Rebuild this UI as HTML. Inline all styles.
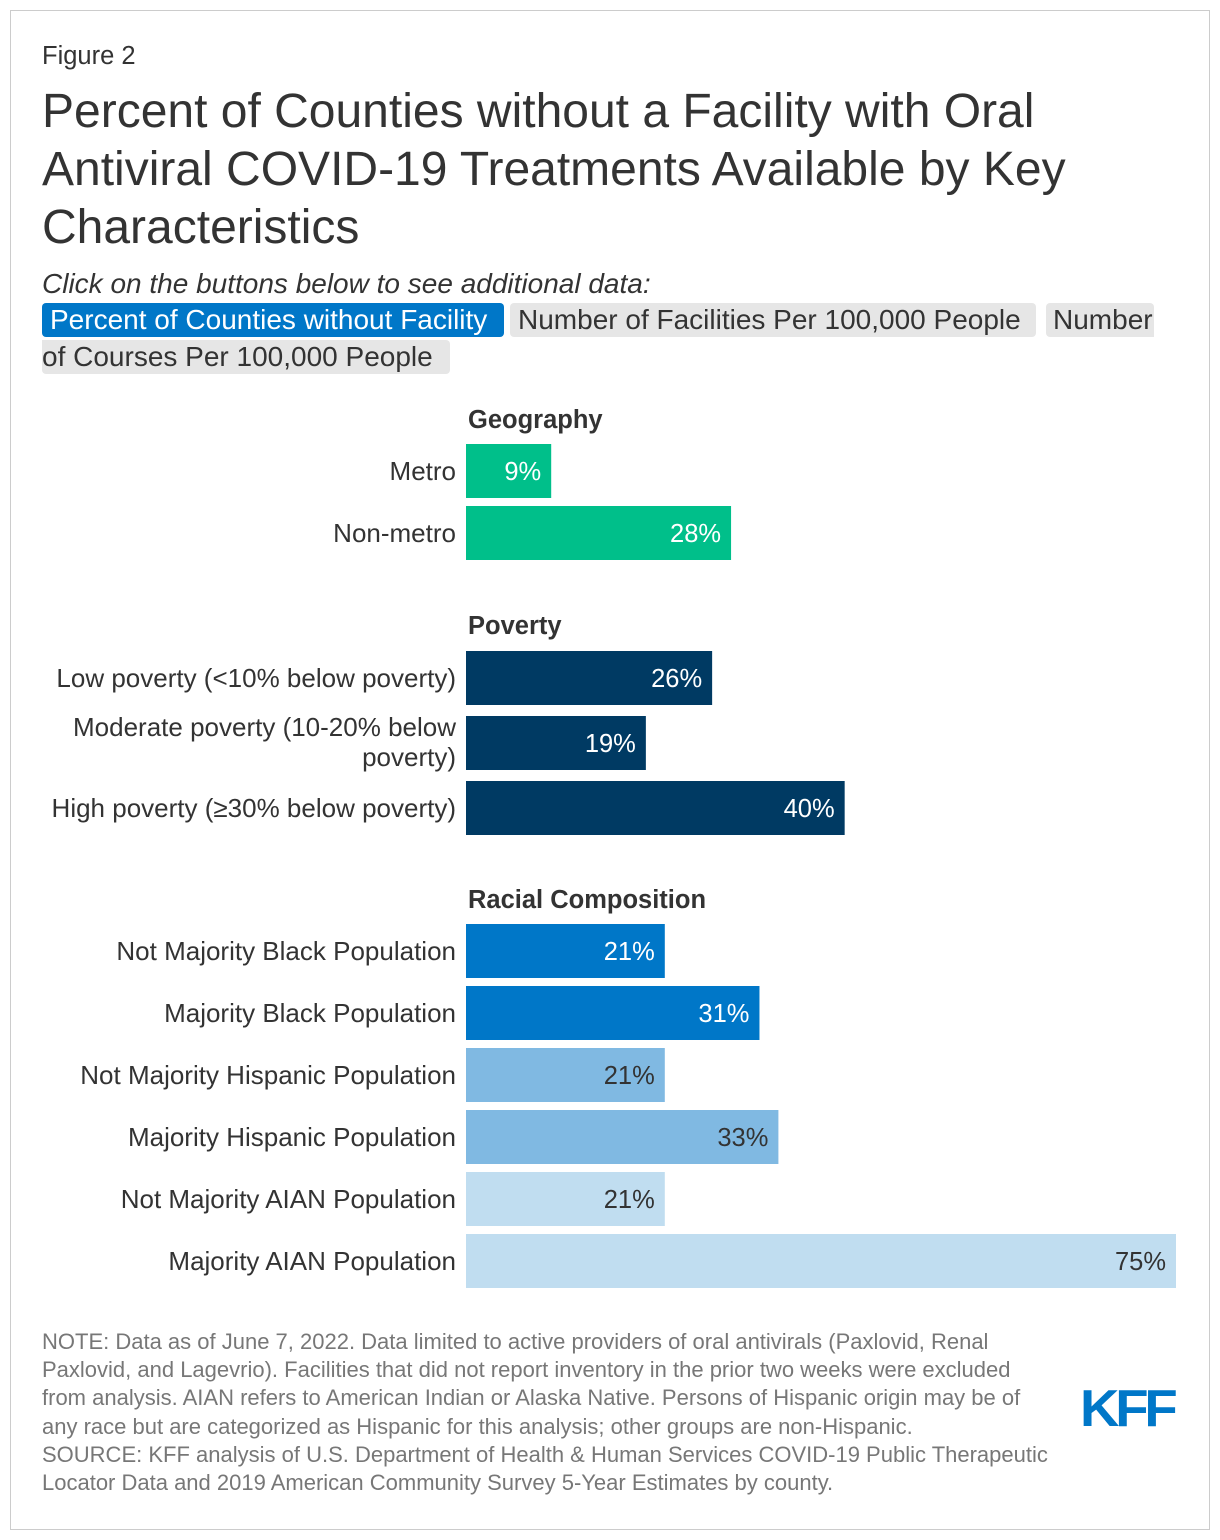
<!DOCTYPE html>
<html><head><meta charset="utf-8"><style>
body{margin:0;width:1220px;height:1540px;background:#fff;font-family:"Liberation Sans",Arial,sans-serif;color:#333;position:relative;overflow:hidden}
.frame{position:absolute;left:10px;top:10px;width:1198px;height:1518px;border:1px solid #ccc}
.abs{position:absolute}
.btn{position:absolute;height:34px;line-height:34px;font-size:28px;background:#e6e6e6;color:#333;border-radius:4px;padding:0 8px;box-sizing:border-box;white-space:nowrap;overflow:hidden}
</style></head><body>
<div class="frame"></div>
<div class="abs" style="left:42px;top:42px;font-size:25.5px">Figure 2</div>
<div class="abs" style="left:42px;top:83px;font-size:48px;line-height:58px;width:1140px">Percent of Counties without a Facility with Oral Antiviral COVID-19 Treatments Available by Key Characteristics</div>
<div class="abs" style="left:42px;top:268px;font-size:28px;font-style:italic">Click on the buttons below to see additional data:</div>
<div class="btn" style="left:42px;top:303px;width:462px;background:#0077c8;color:#fff">Percent of Counties without Facility</div>
<div class="btn" style="left:510px;top:303px;width:526px">Number of Facilities Per 100,000 People</div>
<div class="btn" style="left:1046px;top:303px;width:108px;border-radius:4px 4px 0 4px;padding-left:7px">Number</div>
<div class="btn" style="left:42px;top:340px;width:408px;border-radius:0 4px 4px 4px;padding-left:0">of Courses Per 100,000 People</div>
<svg class="abs" style="left:0;top:0" width="1220" height="1320" id="chart"></svg>
<div class="abs" style="left:42px;top:1328px;font-size:22px;line-height:28.2px;color:#777;width:1012px">NOTE: Data as of June 7, 2022. Data limited to active providers of oral antivirals (Paxlovid, Renal Paxlovid, and Lagevrio). Facilities that did not report inventory in the prior two weeks were excluded from analysis. AIAN refers to American Indian or Alaska Native. Persons of Hispanic origin may be of any race but are categorized as Hispanic for this analysis; other groups are non-Hispanic.<br>SOURCE: KFF analysis of U.S. Department of Health &amp; Human Services COVID-19 Public Therapeutic Locator Data and 2019 American Community Survey 5-Year Estimates by county.</div>
<div class="abs" style="left:1080px;top:1383px;font-size:52px;font-weight:bold;color:#0077c8;letter-spacing:-4px;line-height:52px;transform:scaleX(1.05);transform-origin:left">KFF</div>
<script>
const categories=["Metro","Non-metro","Low poverty (<10% below poverty)","Moderate poverty (10-20% below|poverty)","High poverty (≥30% below poverty)","Not Majority Black Population","Majority Black Population","Not Majority Hispanic Population","Majority Hispanic Population","Not Majority AIAN Population","Majority AIAN Population"];
const values=[9,28,26,19,40,21,31,21,33,21,75];
const groups=["Geography","Poverty","Racial Composition"];
const svg=document.getElementById('chart');
const NS="http://www.w3.org/2000/svg";
const x0=466, pxPer=710/75;
const xs=v=>v*pxPer;
const barTops=[444,506,651,716,781,924,986,1048,1110,1172,1234];
const colors=["#00bf8a","#00bf8a","#003a63","#003a63","#003a63","#0077c8","#0077c8","#80b9e2","#80b9e2","#c0ddf0","#c0ddf0"];
const labelColors=["#fff","#fff","#fff","#fff","#fff","#fff","#fff","#333","#333","#333","#333"];
const groupY=[428,634,908];
function txt(x,y,s,opts){const t=document.createElementNS(NS,'text');t.setAttribute('x',x);t.setAttribute('y',y);t.setAttribute('font-size',opts.size||26);t.setAttribute('fill',opts.fill||'#333');if(opts.anchor)t.setAttribute('text-anchor',opts.anchor);if(opts.bold)t.setAttribute('font-weight','bold');t.setAttribute('font-family','Liberation Sans, Arial, sans-serif');t.textContent=s;svg.appendChild(t);return t;}
groups.forEach((g,i)=>{const t=txt(468,groupY[i],g,{bold:true,size:25.5});

});
values.forEach((v,i)=>{
 const y=barTops[i],h=54;
 const r=document.createElementNS(NS,'rect');
 r.setAttribute('x',x0);r.setAttribute('y',y);r.setAttribute('width',xs(v));r.setAttribute('height',h);r.setAttribute('fill',colors[i]);
 
 
 svg.appendChild(r);
 const vl=txt(x0+xs(v)-10,y+36,v+'%',{fill:labelColors[i],anchor:'end',size:25.5});
 
 
 const parts=categories[i].split('|');
 parts.forEach((p,j)=>{const yy=parts.length>1?y+20+j*30:y+36;
  const c=txt(456,yy,p,{anchor:'end'});
  
  });
});
</script>
</body></html>
